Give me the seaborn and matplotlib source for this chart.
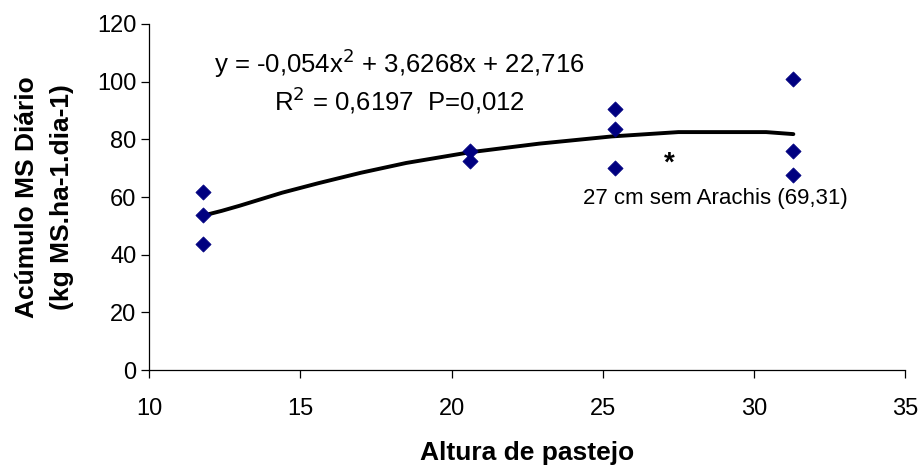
import matplotlib
matplotlib.use("Agg")
import matplotlib.pyplot as plt
import seaborn as sns
import pandas as pd

# Observed data
altura = [11.8, 11.8, 11.8, 20.6, 20.6, 25.4, 25.4, 25.4, 31.3, 31.3, 31.3]
acumulo = [61.6, 53.8, 43.6, 76.1, 72.4, 90.4, 83.6, 69.9, 100.9, 76.1, 67.6]

# Fitted curve as drawn
curve_x = [11.8, 12.4, 13.0, 14.4, 15.6, 17.0, 18.5, 20.6, 22.9, 25.3, 27.5, 30.4, 31.3]
curve_y = [53.6, 55.2, 57.0, 61.5, 64.8, 68.4, 71.8, 75.5, 78.5, 81.0, 82.5, 82.5, 81.8]

x_ticks = [10, 15, 20, 25, 30, 35]
y_ticks = [0, 20, 40, 60, 80, 100, 120]

sns.set_theme(style="ticks", rc={"text.color": "black", "axes.labelcolor": "black",
                                 "xtick.color": "black", "ytick.color": "black",
                                 "axes.edgecolor": "black"})
plt.rcParams['font.family'] = ['Liberation Sans', 'DejaVu Sans']

fig = plt.figure(figsize=(9.2, 4.68), dpi=100)
ax = fig.add_axes([0.162, 0.209, 0.822, 0.740])

pts = pd.DataFrame({"x": altura, "y": acumulo})
crv = pd.DataFrame({"x": curve_x, "y": curve_y})

sns.lineplot(data=crv, x="x", y="y", ax=ax, color="black", linewidth=2.8, sort=False)
sns.scatterplot(data=pts, x="x", y="y", ax=ax, marker="D", color="#000080",
                s=60, edgecolor="#000080", linewidth=0.5, zorder=3)

ax.set_xlim(10, 35)
ax.set_ylim(0, 120)
ax.set_xticks(x_ticks)
ax.set_yticks(y_ticks)
ax.tick_params(axis="both", labelsize=17, length=6, width=0.9)
ax.tick_params(axis="x", pad=14)
ax.tick_params(axis="y", pad=3)
for s in ["top", "right"]:
    ax.spines[s].set_visible(False)
for s in ["left", "bottom"]:
    ax.spines[s].set_linewidth(0.9)

ax.set_xlabel("Altura de pastejo", fontsize=19, fontweight="bold", labelpad=15)
ax.set_ylabel("Acúmulo MS Diário\n(kg MS.ha-1.dia-1)", fontsize=19, fontweight="bold",
              labelpad=17, linespacing=1.55)

fig.text(399 / 920, 1 - 63 / 468, r"y = -0,054x$^{2}$ + 3,6268x + 22,716",
         fontsize=18.5, ha="center", va="center")
fig.text(399 / 920, 1 - 100 / 468, r"R$^{2}$ = 0,6197  P=0,012",
         fontsize=18.5, ha="center", va="center")
ax.text(27.2, 71.5, "*", fontsize=20, fontweight="bold", ha="center", va="center")
ax.text(28.72, 59.5, "27 cm sem Arachis (69,31)", fontsize=16, ha="center", va="center")

fig.savefig("out.png", dpi=100)
